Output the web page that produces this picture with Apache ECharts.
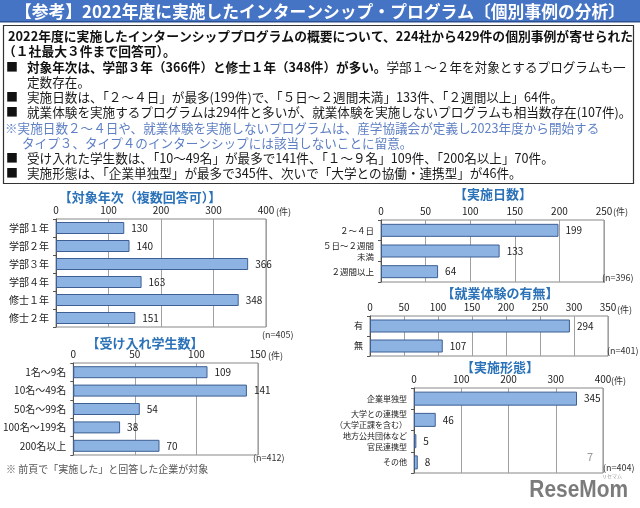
<!DOCTYPE html>
<html><head><meta charset="utf-8">
<script src="https://cdn.jsdelivr.net/npm/echarts@6/dist/echarts.min.js"></script>
<style>html,body{margin:0;padding:0;background:#fff}#c{width:640px;height:508px}</style>
</head><body><div id="c"></div>
<script>
// ---- data ----
const yearCats = ['学部１年','学部２年','学部３年','学部４年','修士１年','修士２年'];
const yearVals = [130,140,366,163,348,151];
const studentCats = ['1名～9名','10名～49名','50名～99名','100名～199名','200名以上'];
const studentVals = [109,141,54,38,70];
const dayCats = ['２～４日','５日～２週間\n未満','２週間以上'];
const dayVals = [199,133,64];
const expCats = ['有','無'];
const expVals = [294,107];
const formCats = ['企業単独型','大学との連携型\n（大学正課を含む）','地方公共団体など\n官民連携型','その他'];
const formVals = [345,46,5,8];
const axisMax = [400,150,250,350,400];
const axisStep = [100,50,50,50,100];
const chartTitles = ['【対象年次（複数回答可）】','【受け入れ学生数】','【実施日数】','【就業体験の有無】','【実施形態】'];
const nLabels = ['(n=405)','(n=412)','(n=396)','(n=401)','(n=404)'];

const FONT = '"Noto Sans CJK JP", "Noto Sans", sans-serif';
const chart = echarts.init(document.getElementById('c'), null, {renderer:'canvas'});

const grids = [
  {left:56, top:219, width:210, height:108},
  {left:67, top:363, width:191, height:92},
  {left:381, top:220, width:223, height:62},
  {left:370, top:316, width:238, height:40},
  {left:414, top:388, width:189, height:85}
];
const cats = [yearCats, studentCats, dayCats, expCats, formCats];
const vals = [yearVals, studentVals, dayVals, expVals, formVals];
const barW = [12,12,13,13,14];
const labelSize = [10,10,8.5,9,8];
const labelLH = [12,12,11,12,11];

const option = {
  animation:false,
  textStyle:{fontFamily:FONT},
  grid: grids.map(g=>Object.assign({show:true, borderColor:'#888', borderWidth:1, containLabel:false}, g)),
  xAxis: grids.map((g,i)=>({
    gridIndex:i, type:'value', position:'top', min:0, max:axisMax[i], interval:axisStep[i],
    axisLine:{show:false}, axisTick:{show:false},
    axisLabel:{fontSize:10, color:'#222', margin:4, fontFamily:FONT},
    splitLine:{show:true, lineStyle:{color:'#a0a0a0', width:1}}
  })),
  yAxis: grids.map((g,i)=>({
    gridIndex:i, type:'category', inverse:true, data:cats[i],
    axisLine:{show:true, lineStyle:{color:'#555'}},
    axisTick:{show:true, length:3, lineStyle:{color:'#555'}},
    axisLabel:{fontSize:labelSize[i], color:'#222', margin:7, lineHeight:labelLH[i], fontFamily:FONT}
  })),
  series: grids.map((g,i)=>({
    type:'bar', xAxisIndex:i, yAxisIndex:i, data:vals[i], barWidth:barW[i],
    itemStyle:{color:'#8db3e2', borderColor:'#3d5f93', borderWidth:1},
    label:{show:true, position:'right', distance:7, fontSize:10, color:'#222', fontFamily:FONT}
  })),
  graphic: []
};

const G = option.graphic;
// header bar
G.push({type:'rect', shape:{x:0,y:0,width:640,height:22}, style:{fill:'#4674c4'}, z:1});
G.push({type:'rect', shape:{x:0,y:21,width:640,height:1.5}, style:{fill:'#2c4f8f'}, z:2});
G.push({type:'text', x:320, y:11.5, style:{text:'【参考】2022年度に実施したインターンシップ・プログラム〔個別事例の分析〕', fill:'#fff', font:'bold 16.8px '+FONT, align:'center', verticalAlign:'middle'}, z:3});
// text box
G.push({type:'rect', shape:{x:3.5,y:25.5,width:630,height:158}, style:{fill:'#fff', stroke:'#333', lineWidth:1.2}, z:1});

const lines = [
  {x:8, y:36, t:'{B|2022年度に実施したインターンシッププログラムの概要について、224社から429件の個別事例が寄せられた}'},
  {x:3, y:51, t:'{B|（１社最大３件まで回答可）。}'},
  {x:27, y:67, t:'{b|対象年次は、学部３年（366件）と修士１年（348件）が多い。}{n|学部１～２年を対象とするプログラムも一}', bullet:true},
  {x:27, y:82, t:'{n|定数存在。}'},
  {x:27, y:97, t:'{n|実施日数は、「２～４日」が最多(199件)で、「５日～２週間未満」133件、「２週間以上」64件。}', bullet:true},
  {x:27, y:112, t:'{n|就業体験を実施するプログラムは294件と多いが、就業体験を実施しないプログラムも相当数存在(107件)。}', bullet:true},
  {x:5, y:128, t:'{c|※実施日数２～４日や、就業体験を実施しないプログラムは、産学協議会が定義し2023年度から開始する}'},
  {x:22, y:143, t:'{c|タイプ３、タイプ４のインターンシップには該当しないことに留意。}'},
  {x:27, y:158, t:'{n|受け入れた学生数は、「10～49名」が最多で141件、「１～９名」109件、「200名以上」70件。}', bullet:true},
  {x:27, y:173, t:'{n|実施形態は、「企業単独型」が最多で345件、次いで「大学との協働・連携型」が46件。}', bullet:true}
];
const rich = {
  B:{fontFamily:FONT, fontSize:12.8, fontWeight:'bold', fill:'#111'},
  b:{fontFamily:FONT, fontSize:12.6, fontWeight:'bold', fill:'#111'},
  n:{fontFamily:FONT, fontSize:12.6, fontWeight:'normal', fill:'#1a1a1a'},
  c:{fontFamily:FONT, fontSize:12.6, fontWeight:'normal', fill:'#5f80c4'}
};
lines.forEach(l=>{
  if(l.bullet) G.push({type:'text', x:6, y:l.y, style:{text:'■', fill:'#111', font:'12px '+FONT, verticalAlign:'middle'}, z:3});
  G.push({type:'text', x:l.x, y:l.y, style:{text:l.t, rich:rich, verticalAlign:'middle'}, z:3});
});

// chart titles
const titlePos = [[140,197],[145,343],[493,194],[500,293],[500,367]];
chartTitles.forEach((t,i)=>G.push({type:'text', x:titlePos[i][0], y:titlePos[i][1], style:{text:t, fill:'#2b72b8', font:'bold 13px '+FONT, align:'center', verticalAlign:'middle'}, z:3}));
// unit labels
const unitPos = [[276,212],[268,356],[613,212],[617,310],[611,381]];
unitPos.forEach(p=>G.push({type:'text', x:p[0], y:p[1], style:{text:'(件)', fill:'#333', font:'9px '+FONT, verticalAlign:'middle'}, z:3}));
// n labels
const nPos = [[262,335],[253,458],[602,278],[607,351],[603,468]];
nLabels.forEach((t,i)=>G.push({type:'text', x:nPos[i][0], y:nPos[i][1], style:{text:t, fill:'#333', font:'9px '+FONT, verticalAlign:'middle'}, z:3}));
// footnote
G.push({type:'text', x:6, y:469, style:{text:'※ 前頁で「実施した」と回答した企業が対象', fill:'#555', font:'10px '+FONT, verticalAlign:'middle'}, z:3});
// page number
G.push({type:'text', x:587, y:457, style:{text:'7', fill:'#999', font:'11px '+FONT, verticalAlign:'middle'}, z:3});
// logo
G.push({type:'text', x:628, y:490, scaleX:0.87, style:{text:'ReseMom', fill:'#7b7b7b', font:'bold 24px "Liberation Sans", Arial, sans-serif', align:'right', verticalAlign:'middle'}, z:3});
G.push({type:'text', x:612, y:476, style:{text:'リセマム', fill:'#999', font:'5px '+FONT, align:'center', verticalAlign:'middle'}, z:3});

chart.setOption(option);
</script></body></html>
